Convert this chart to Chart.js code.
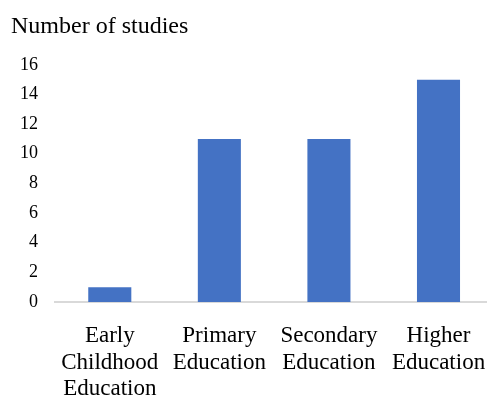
<!DOCTYPE html>
<html>
<head>
<meta charset="utf-8">
<script src="https://cdn.jsdelivr.net/npm/chart.js@4/dist/chart.umd.min.js"></script>
<style>
  html, body { margin: 0; padding: 0; background: #fff; overflow: hidden; }
  #wrap { width: 507px; height: 396px; }
</style>
</head>
<body>
<div id="wrap"><canvas id="myChart" width="507" height="396"></canvas></div>
<script>
// chart data
const categories = [
  ['Early', 'Childhood', 'Education'],
  ['Primary', 'Education'],
  ['Secondary', 'Education'],
  ['Higher', 'Education']
];
const studies = [1, 11, 11, 15];
const yTicks = [0, 2, 4, 6, 8, 10, 12, 14, 16];

const serif = '"Liberation Serif", "Times New Roman", serif';

let ctx = document.getElementById('myChart');
let myChart = new Chart(ctx, {
  type: 'bar',
  data: {
    labels: categories,
    datasets: [{
      data: studies,
      backgroundColor: '#4472C4',
      barPercentage: 0.393,
      categoryPercentage: 1
    }]
  },
  options: {
    responsive: false,
    animation: false,
    layout: { padding: { left: 11, right: 7, top: 0, bottom: 0 } },
    plugins: {
      legend: { display: false },
      tooltip: { enabled: false },
      title: {
        display: true,
        text: 'Number of studies',
        align: 'start',
        color: '#000',
        font: { family: serif, size: 24, weight: 'normal' },
        padding: { top: 12, bottom: 24 }
      }
    },
    scales: {
      x: {
        grid: { display: false, drawTicks: false },
        border: { display: true, color: '#d9d9d9', width: 2 },
        afterFit: function (scale) { scale.height = 94; },
        ticks: {
          color: '#000',
          padding: 21,
          maxRotation: 0,
          autoSkip: false,
          font: { family: serif, size: 23, lineHeight: 1.15 }
        }
      },
      y: {
        min: 0,
        max: 16,
        grid: { display: false, drawTicks: false },
        border: { display: false },
        afterFit: function (scale) { scale.width = 44; },
        afterBuildTicks: function (scale) {
          scale.ticks = yTicks.map(function (v) { return { value: v }; });
        },
        ticks: {
          color: '#000',
          padding: 17,
          font: { family: serif, size: 18 }
        }
      }
    }
  }
});
</script>
</body>
</html>
